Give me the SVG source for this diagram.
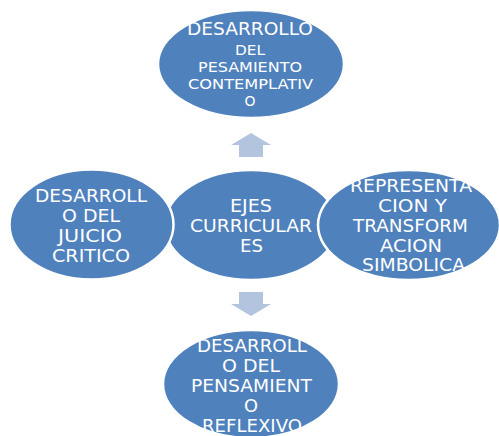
<svg xmlns="http://www.w3.org/2000/svg" width="499" height="436" viewBox="0 0 499 436">
<style>
.n{fill:#4F81BD;stroke:#FFFFFF;stroke-width:2.5}
.t{fill:#FFFFFF;font-family:"DejaVu Sans",Verdana,sans-serif;text-anchor:middle}
.a{fill:#B3C4DE}
</style>
<rect width="499" height="436" fill="#FFFFFF"/>
<g id="connectors">
<polygon class="a" points="251,133 271,145 263,145 263,157 239,157 239,145 231,145"/>
<polygon class="a" points="239,292 263,292 263,304 271,304 251,316 231,304 239,304"/>
</g>
<g id="center">
<ellipse class="n" cx="251" cy="225" rx="86" ry="55"/>
<text class="t" font-size="18"><tspan x="251" y="212" textLength="42" lengthAdjust="spacingAndGlyphs">EJES</tspan><tspan x="251" y="232" textLength="122" lengthAdjust="spacingAndGlyphs">CURRICULAR</tspan><tspan x="251.5" y="252" textLength="23" lengthAdjust="spacingAndGlyphs">ES</tspan></text>
</g>
<g id="top">
<ellipse class="n" cx="251" cy="64" rx="93" ry="54"/>
<text class="t" font-size="17.5"><tspan x="250" y="35" textLength="126" lengthAdjust="spacingAndGlyphs">DESARROLLO</tspan></text>
<text class="t" font-size="14.5"><tspan x="250" y="55" textLength="30" lengthAdjust="spacingAndGlyphs">DEL</tspan><tspan x="250" y="72" textLength="104" lengthAdjust="spacingAndGlyphs">PESAMIENTO</tspan><tspan x="250.5" y="88.5" textLength="125" lengthAdjust="spacingAndGlyphs">CONTEMPLATIV</tspan><tspan x="250" y="105.5" textLength="11" lengthAdjust="spacingAndGlyphs">O</tspan></text>
</g>
<g id="left">
<ellipse class="n" cx="91.5" cy="224.5" rx="82" ry="55"/>
<text class="t" font-size="18"><tspan x="91" y="202" textLength="112" lengthAdjust="spacingAndGlyphs">DESARROLL</tspan><tspan x="91" y="222" textLength="58" lengthAdjust="spacingAndGlyphs">O DEL</tspan><tspan x="90" y="242" textLength="64" lengthAdjust="spacingAndGlyphs">JUICIO</tspan><tspan x="91" y="262" textLength="78" lengthAdjust="spacingAndGlyphs">CRITICO</tspan></text>
</g>
<g id="right">
<ellipse class="n" cx="409" cy="225" rx="91" ry="55"/>
<text class="t" font-size="18"><tspan x="411" y="192" textLength="122" lengthAdjust="spacingAndGlyphs">REPRESENTA</tspan><tspan x="412.5" y="212" textLength="69" lengthAdjust="spacingAndGlyphs">CION Y</tspan><tspan x="410.5" y="232" textLength="115" lengthAdjust="spacingAndGlyphs">TRANSFORM</tspan><tspan x="411" y="252" textLength="62" lengthAdjust="spacingAndGlyphs">ACION</tspan><tspan x="413.5" y="271" textLength="103" lengthAdjust="spacingAndGlyphs">SIMBOLICA</tspan></text>
</g>
<g id="bottom">
<ellipse class="n" cx="251" cy="384" rx="88" ry="54"/>
<text class="t" font-size="18"><tspan x="252" y="352" textLength="110" lengthAdjust="spacingAndGlyphs">DESARROLL</tspan><tspan x="251" y="372" textLength="58" lengthAdjust="spacingAndGlyphs">O DEL</tspan><tspan x="251.5" y="392" textLength="121" lengthAdjust="spacingAndGlyphs">PENSAMIENT</tspan><tspan x="251" y="412" textLength="14" lengthAdjust="spacingAndGlyphs">O</tspan><tspan x="252" y="432" textLength="100" lengthAdjust="spacingAndGlyphs">REFLEXIVO</tspan></text>
</g>
</svg>
